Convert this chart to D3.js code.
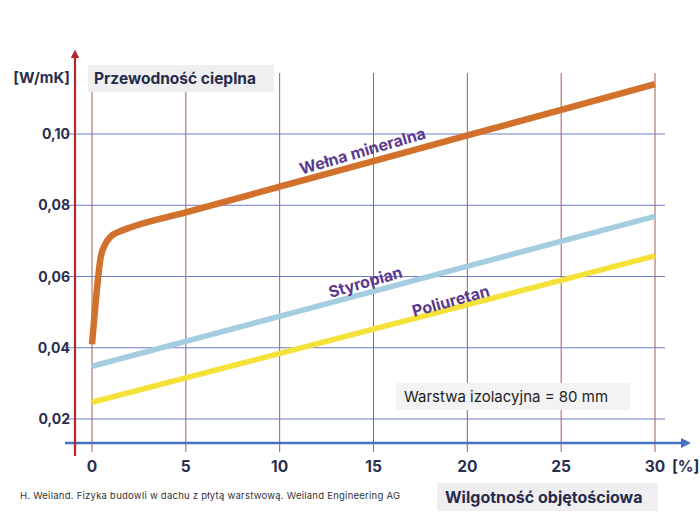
<!DOCTYPE html>
<html>
<head>
<meta charset="utf-8">
<script src="https://cdn.jsdelivr.net/npm/d3@7"></script>
<style>
  body { margin: 0; background: #fff; }
  svg text { font-family: Inter, "Noto Sans", sans-serif; }
</style>
</head>
<body>
<div id="chart"></div>
<script>
// moisture content [%] vs thermal conductivity [W/mK]
const xTicks = [0, 5, 10, 15, 20, 25, 30];
const yTicks = [0.02, 0.04, 0.06, 0.08, 0.10];

const mineralWool = [
  [0, 0.041], [0.2, 0.053], [0.45, 0.065], [0.7, 0.069], [1, 0.0712],
  [1.5, 0.0727], [2, 0.0737], [5, 0.078], [10, 0.0852], [15, 0.0924],
  [20, 0.0996], [25, 0.1068], [30, 0.114]
];
const styrofoam = [[0, 0.0348], [30, 0.0769]];
const polyurethane = [[0, 0.0247], [30, 0.0658]];

const series = [
  { name: "Wełna mineralna", data: mineralWool, color: "#d2712c", width: 6.5, label: [14.5, 0.0937] },
  { name: "Styropian", data: styrofoam, color: "#a5cde0", width: 5.5, label: [14.65, 0.0569] },
  { name: "Poliuretan", data: polyurethane, color: "#f4e23a", width: 5.5, label: [19.2, 0.0516] }
];

const width = 700, height = 525;
const svg = d3.select("#chart").append("svg")
  .attr("width", width).attr("height", height);

const x = d3.scaleLinear().domain([0, 30]).range([92, 655]);
const y = d3.scaleLinear().domain([0.02, 0.10]).range([419, 134]);

// grid
svg.append("g").selectAll("line").data(xTicks).join("line")
  .attr("x1", d => x(d)).attr("x2", d => x(d))
  .attr("y1", 73).attr("y2", 452)
  .attr("stroke", "#a0483a").attr("stroke-width", 0.9);

svg.append("g").selectAll("line").data(yTicks).join("line")
  .attr("x1", 65).attr("x2", 665)
  .attr("y1", d => y(d)).attr("y2", d => y(d))
  .attr("stroke", "#6d7cc9").attr("stroke-width", 1);

// boxes
svg.append("rect").attr("x", 88).attr("y", 65).attr("width", 186).attr("height", 27).attr("fill", "#efeff2");
svg.append("text").attr("x", 94).attr("y", 84).text("Przewodność cieplna")
  .attr("font-size", 15.5).attr("font-weight", 700).attr("fill", "#262b4a");

svg.append("rect").attr("x", 396).attr("y", 383).attr("width", 234).attr("height", 27).attr("fill", "#f3f3f3");
svg.append("text").attr("x", 404).attr("y", 402).text("Warstwa izolacyjna = 80 mm")
  .attr("font-size", 15).attr("fill", "#1e1e1e");

svg.append("rect").attr("x", 437).attr("y", 483).attr("width", 221).attr("height", 28).attr("fill", "#efeff2");
svg.append("text").attr("x", 445).attr("y", 503).text("Wilgotność objętościowa")
  .attr("font-size", 16).attr("font-weight", 700).attr("fill", "#262b4a");

// curves
const line = d3.line().x(d => x(d[0])).y(d => y(d[1])).curve(d3.curveMonotoneX);
svg.append("g").selectAll("path").data(series).join("path")
  .attr("d", d => line(d.data))
  .attr("fill", "none")
  .attr("stroke", d => d.color)
  .attr("stroke-width", d => d.width);

// series labels, rotated along the line slope
svg.append("g").selectAll("text").data(series).join("text")
  .attr("transform", d => {
    const pts = d.data, a = pts[pts.length - 2], b = pts[pts.length - 1];
    const ang = Math.atan2(y(b[1]) - y(a[1]), x(b[0]) - x(a[0])) * 180 / Math.PI - 1;
    return `translate(${x(d.label[0])},${y(d.label[1])}) rotate(${ang})`;
  })
  .attr("text-anchor", "middle")
  .attr("font-size", 16).attr("font-weight", 700).attr("fill", "#5b3a8e")
  .text(d => d.name);

// axes with arrows
svg.append("defs").call(defs => {
  defs.append("marker").attr("id", "arR").attr("viewBox", "0 0 10 10")
    .attr("refX", 5).attr("refY", 5).attr("markerWidth", 4).attr("markerHeight", 4)
    .attr("orient", "auto").append("path").attr("d", "M0,0L10,5L0,10z").attr("fill", "#b0282c");
  defs.append("marker").attr("id", "arB").attr("viewBox", "0 0 10 10")
    .attr("refX", 5).attr("refY", 5).attr("markerWidth", 4).attr("markerHeight", 4)
    .attr("orient", "auto").append("path").attr("d", "M0,0L10,5L0,10z").attr("fill", "#4472c4");
});
svg.append("line").attr("x1", 65).attr("x2", 686).attr("y1", 443).attr("y2", 443)
  .attr("stroke", "#4472c4").attr("stroke-width", 2.5).attr("marker-end", "url(#arB)");
svg.append("line").attr("x1", 75).attr("x2", 75).attr("y1", 456).attr("y2", 54)
  .attr("stroke", "#b0282c").attr("stroke-width", 2.2).attr("marker-end", "url(#arR)");

// tick labels
const fmt = d => d.toFixed(2).replace(".", ",");
svg.append("g").selectAll("text").data(yTicks).join("text")
  .attr("x", 70).attr("y", d => y(d) + 5)
  .attr("text-anchor", "end")
  .attr("font-size", 14).attr("font-weight", 700).attr("fill", "#2a2f4e")
  .text(fmt);
svg.append("text").attr("x", 70).attr("y", 83).attr("text-anchor", "end")
  .attr("font-size", 15).attr("font-weight", 700).attr("fill", "#2a2f4e").text("[W/mK]");

svg.append("g").selectAll("text").data(xTicks).join("text")
  .attr("x", d => x(d)).attr("y", 472)
  .attr("text-anchor", "middle")
  .attr("font-size", 15.5).attr("font-weight", 700).attr("fill", "#2a2f4e")
  .text(d => d);
svg.append("text").attr("x", 672).attr("y", 472)
  .attr("font-size", 15.5).attr("font-weight", 700).attr("fill", "#2a2f4e").text("[%]");

svg.append("text").attr("x", 20).attr("y", 499)
  .attr("font-size", 9.5).attr("fill", "#333").attr("textLength", 380)
  .text("H. Weiland. Fizyka budowli w dachu z płytą warstwową. Weiland Engineering AG");
</script>
</body>
</html>
